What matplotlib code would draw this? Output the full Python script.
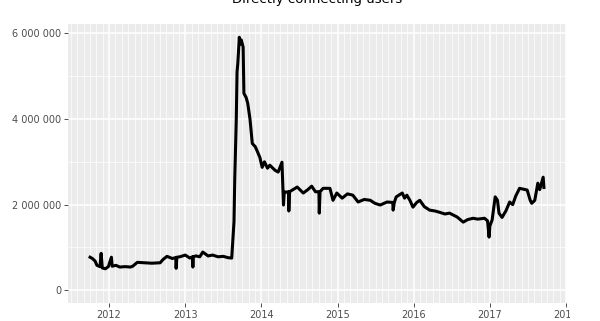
import matplotlib
matplotlib.use("Agg")
import matplotlib.pyplot as plt
from matplotlib.ticker import FixedLocator, FuncFormatter, MultipleLocator
from matplotlib.transforms import Bbox

# Decimal year of each reading and directly connecting users (millions)
years = [2011.75, 2011.78, 2011.816, 2011.84, 2011.88, 2011.895, 2011.91, 2011.95, 2011.99,
         2012.03, 2012.04, 2012.09, 2012.14, 2012.21, 2012.28, 2012.31, 2012.37, 2012.47,
         2012.56, 2012.67, 2012.71, 2012.76, 2012.83, 2012.875, 2012.88, 2012.89, 2012.93,
         2013.0, 2013.06, 2013.095, 2013.10, 2013.105, 2013.14, 2013.19, 2013.23, 2013.30,
         2013.36, 2013.43, 2013.50, 2013.56, 2013.61, 2013.64, 2013.65, 2013.67, 2013.68,
         2013.69, 2013.71, 2013.72, 2013.735, 2013.76, 2013.77, 2013.80, 2013.82, 2013.85,
         2013.88, 2013.92, 2013.94, 2013.98, 2014.01, 2014.04, 2014.08, 2014.11, 2014.18,
         2014.22, 2014.27, 2014.28, 2014.29, 2014.30, 2014.32, 2014.355, 2014.36, 2014.37,
         2014.47, 2014.55, 2014.61, 2014.66, 2014.71, 2014.755, 2014.76, 2014.77, 2014.81,
         2014.90, 2014.94, 2014.99, 2015.06, 2015.13, 2015.20, 2015.27, 2015.35, 2015.43,
         2015.49, 2015.56, 2015.65, 2015.725, 2015.73, 2015.745, 2015.77, 2015.85, 2015.88,
         2015.91, 2015.95, 2015.99, 2016.04, 2016.08, 2016.14, 2016.21, 2016.28, 2016.34,
         2016.41, 2016.47, 2016.57, 2016.65, 2016.71, 2016.78, 2016.84, 2016.93, 2016.97,
         2016.99, 2017.00, 2017.03, 2017.07, 2017.10, 2017.12, 2017.16, 2017.21, 2017.26,
         2017.30, 2017.34, 2017.39, 2017.44, 2017.49, 2017.53, 2017.55, 2017.59, 2017.63,
         2017.655, 2017.70, 2017.71]
users_m = [0.77, 0.74, 0.68, 0.58, 0.55, 0.86, 0.52, 0.50, 0.55,
           0.77, 0.56, 0.58, 0.54, 0.55, 0.54, 0.56, 0.65, 0.64,
           0.63, 0.64, 0.72, 0.79, 0.74, 0.76, 0.51, 0.77, 0.78,
           0.82, 0.75, 0.78, 0.54, 0.78, 0.80, 0.78, 0.89, 0.80,
           0.82, 0.78, 0.79, 0.76, 0.75, 1.60, 2.60, 4.00, 5.10,
           5.30, 5.91, 5.75, 5.85, 5.68, 4.60, 4.50, 4.37, 4.00,
           3.43, 3.35, 3.27, 3.10, 2.87, 3.00, 2.85, 2.92, 2.80,
           2.76, 2.99, 2.50, 1.99, 2.30, 2.29, 2.30, 1.85, 2.30,
           2.41, 2.27, 2.35, 2.43, 2.30, 2.30, 1.80, 2.30, 2.38,
           2.38, 2.10, 2.27, 2.15, 2.25, 2.22, 2.06, 2.12, 2.10,
           2.03, 1.99, 2.06, 2.05, 1.87, 2.05, 2.18, 2.27, 2.15,
           2.22, 2.10, 1.94, 2.05, 2.10, 1.95, 1.87, 1.85, 1.82,
           1.78, 1.80, 1.71, 1.59, 1.65, 1.68, 1.66, 1.68, 1.62,
           1.24, 1.50, 1.64, 2.18, 2.10, 1.80, 1.70, 1.85, 2.06,
           2.00, 2.20, 2.38, 2.36, 2.34, 2.10, 2.03, 2.10, 2.50,
           2.35, 2.64, 2.40]

title = "Directly connecting users"
x_ticks = [2012, 2013, 2014, 2015, 2016, 2017, 2018]
y_ticks = [0, 2_000_000, 4_000_000, 6_000_000]

fig = plt.figure(figsize=(6.0, 3.21), dpi=100)
ax = fig.add_axes([68/600, 18/321, (566-68)/600, (303-24)/321])
ax.set_facecolor("#EBEBEB")

values = [v * 1_000_000 for v in users_m]
ax.plot(years, values, color="black", lw=2.2, solid_joinstyle="round")

ax.set_xlim(2011.46, 2018.0)
ax.set_ylim(-300_000, 6_220_000)

ax.xaxis.set_major_locator(FixedLocator(x_ticks))
ax.xaxis.set_minor_locator(MultipleLocator(1/12))
ax.yaxis.set_major_locator(FixedLocator(y_ticks))
ax.yaxis.set_minor_locator(FixedLocator([1_000_000, 3_000_000, 5_000_000]))
ax.xaxis.set_major_formatter(FuncFormatter(lambda v, p: f"{int(round(v))}"))
ax.yaxis.set_major_formatter(FuncFormatter(lambda v, p: f"{int(v):,}".replace(",", " ")))

ax.grid(which="major", color="white", lw=1.1)
ax.grid(which="minor", color="white", lw=0.5)
ax.set_axisbelow(True)
for s in ax.spines.values():
    s.set_visible(False)

ax.tick_params(which="major", length=2.75, width=0.6, color="#333333",
               labelsize=7, labelcolor="#4D4D4D", pad=2)
ax.tick_params(which="minor", length=0)

fig.text(317/600, 1 - 3/321, title, ha="center", va="baseline",
         fontsize=9.5, color="black")

# the last year label is cut off at the right in the reference
fig.canvas.draw()
last = ax.xaxis.get_major_ticks()[-1].label1
last.set_clip_box(Bbox.from_extents(0, 0, 570, 321))
last.set_clip_on(True)

fig.savefig("out.png", dpi=100)
